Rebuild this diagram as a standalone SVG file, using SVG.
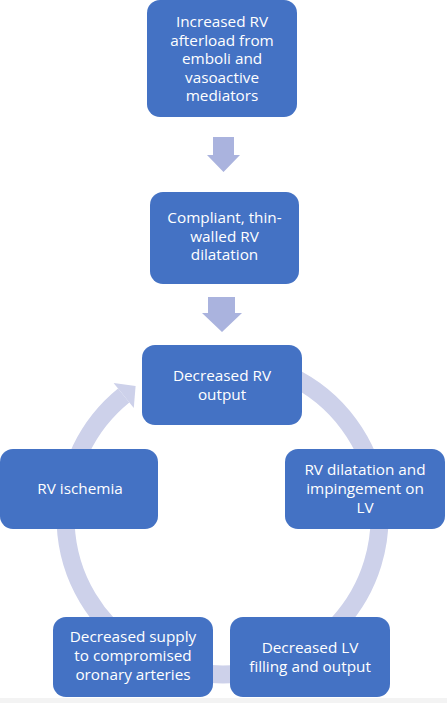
<svg xmlns="http://www.w3.org/2000/svg" width="447" height="703" viewBox="0 0 447 703">
  <style>
    .box { fill: #4472c4; }
    .lbl { fill: #ffffff; font-family: "Open Sans", "Noto Sans", sans-serif; font-size: 15.3px; text-anchor: middle; }
    .ring { fill: none; stroke: #cdd1ea; stroke-width: 18; }
    .ringhead { fill: #cdd1ea; }
    .down { fill: #aab3de; }
  </style>
  <rect x="0" y="0" width="447" height="703" fill="#ffffff"/>
  <rect x="0" y="698" width="447" height="5" fill="#f3f3f3"/>

  <g id="connectors">
    <polygon class="down" points="213,137 234,137 234,155 240,155 223.5,172 207,155 213,155"/>
    <polygon class="down" points="208,297 235,297 235,313 242,313 222,332 202,313 208,313"/>
    <path class="ring" d="M 222.5 360.5 A 157 157 0 1 1 123.7 395.5"/>
    <polygon class="ringhead" points="113.6,383.1 135.6,386.1 133.8,407.9"/>
  </g>

  <g id="n1">
    <rect class="box" x="147" y="0" width="150" height="117" rx="13"/>
    <text class="lbl" x="222" y="27">Increased RV</text>
    <text class="lbl" x="222" y="45.5">afterload from</text>
    <text class="lbl" x="222" y="64">emboli and</text>
    <text class="lbl" x="222" y="82.5">vasoactive</text>
    <text class="lbl" x="222" y="101">mediators</text>
  </g>
  <g id="n2">
    <rect class="box" x="150" y="192" width="149" height="92" rx="13"/>
    <text class="lbl" x="224.5" y="223">Compliant, thin-</text>
    <text class="lbl" x="224.5" y="241.5">walled RV</text>
    <text class="lbl" x="224.5" y="260">dilatation</text>
  </g>
  <g id="n3">
    <rect class="box" x="142" y="345" width="160" height="80" rx="13"/>
    <text class="lbl" x="222" y="381">Decreased RV</text>
    <text class="lbl" x="222" y="400">output</text>
  </g>
  <g id="n4">
    <rect class="box" x="285" y="449" width="160" height="80" rx="13"/>
    <text class="lbl" x="365" y="475">RV dilatation and</text>
    <text class="lbl" x="365" y="494">impingement on</text>
    <text class="lbl" x="365" y="513">LV</text>
  </g>
  <g id="n5">
    <rect class="box" x="230" y="617" width="160" height="80" rx="13"/>
    <text class="lbl" x="310" y="653">Decreased LV</text>
    <text class="lbl" x="310" y="672">filling and output</text>
  </g>
  <g id="n6">
    <rect class="box" x="53" y="617" width="160" height="80" rx="13"/>
    <text class="lbl" x="133" y="642">Decreased supply</text>
    <text class="lbl" x="133" y="661">to compromised</text>
    <text class="lbl" x="133" y="680">oronary arteries</text>
  </g>
  <g id="n7">
    <rect class="box" x="0" y="449" width="158" height="80" rx="13"/>
    <text class="lbl" x="80" y="494">RV ischemia</text>
  </g>
</svg>
